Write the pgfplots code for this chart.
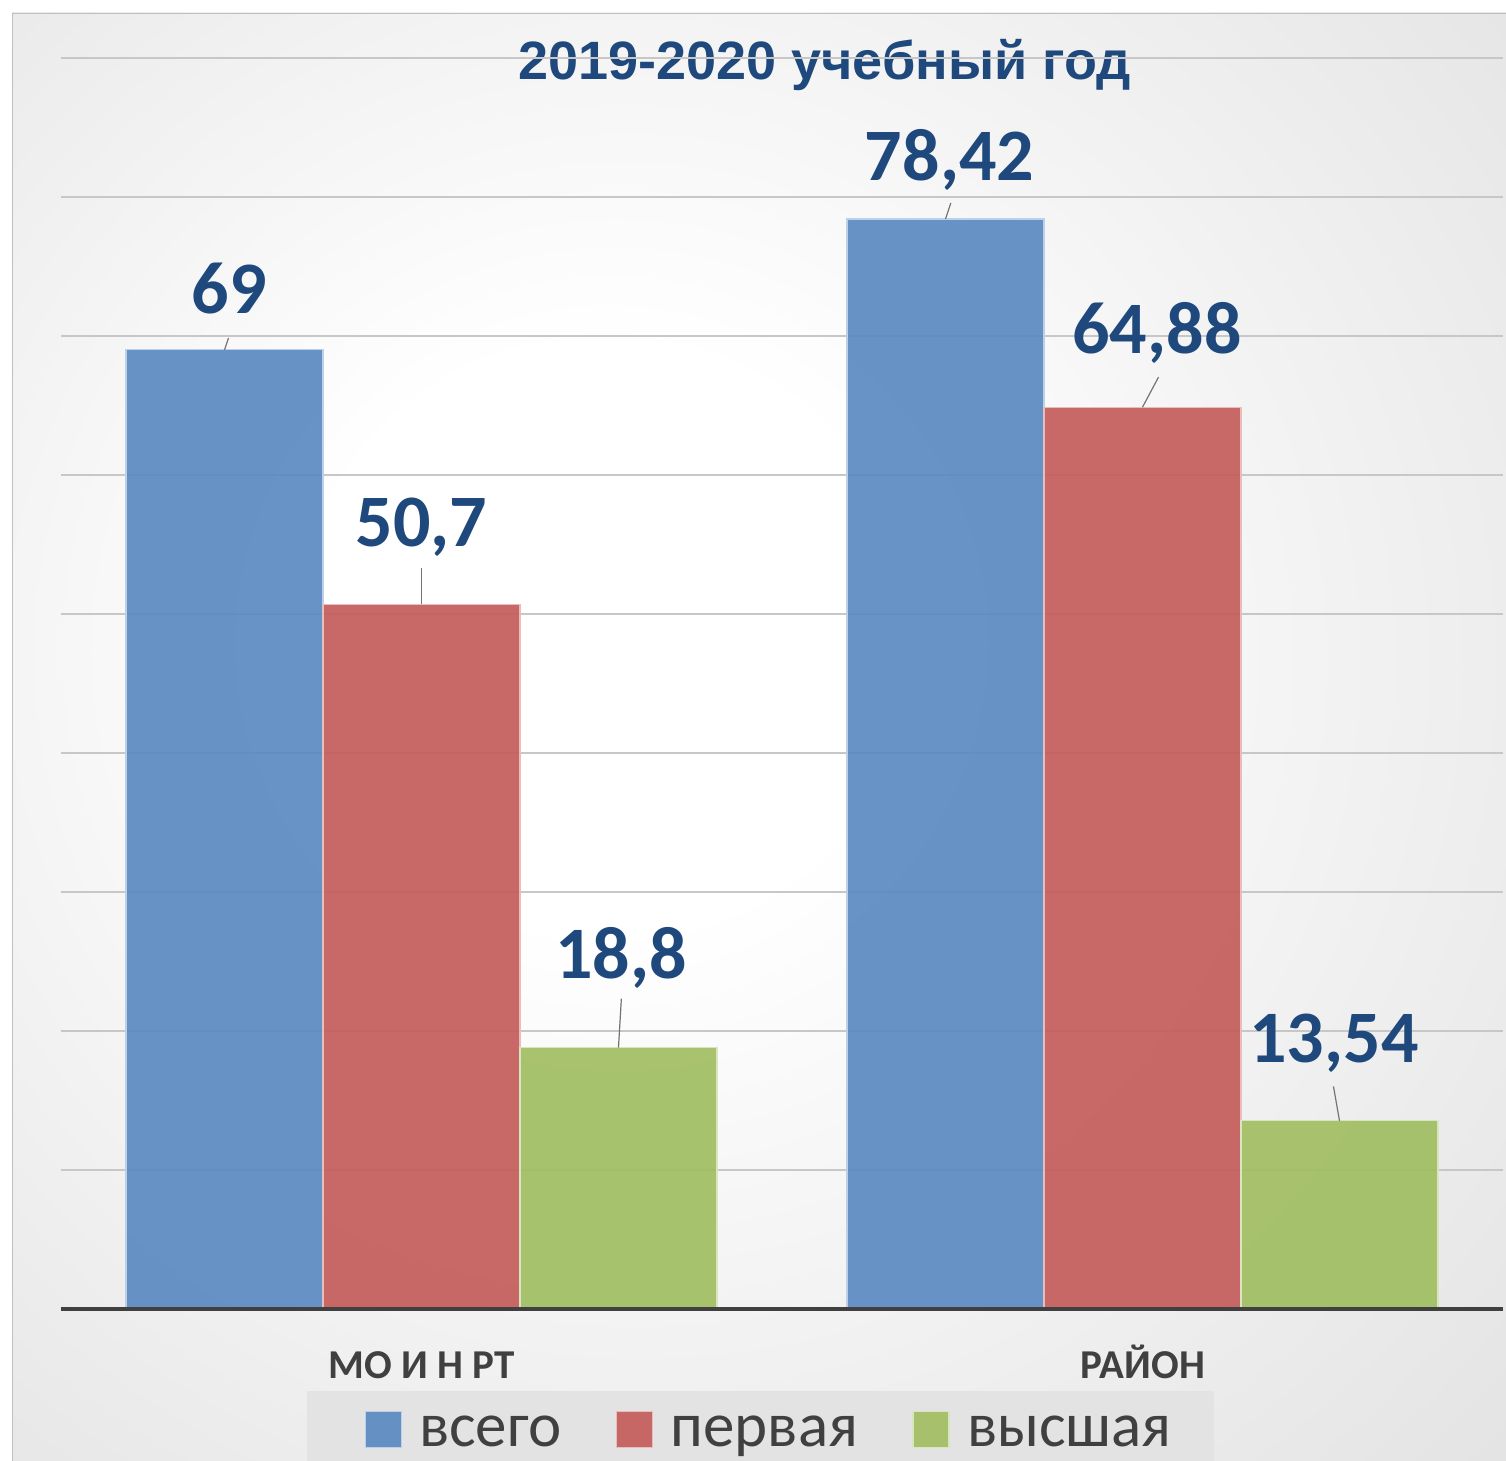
\documentclass[border=0pt]{standalone}
\usepackage{fontspec}
\setmainfont{Carlito}
\newfontfamily\titlefont{Liberation Sans}
\usepackage{pgfplots}
\usepackage{pgfplotstable}
\pgfplotsset{compat=1.18}
\definecolor{barblue}{HTML}{5B8AC2}
\definecolor{barred}{HTML}{C55D5B}
\definecolor{bargreen}{HTML}{A1BE62}
\definecolor{labblue}{HTML}{1F497D}
\definecolor{txtgray}{HTML}{404040}
\pgfdeclareradialshading{bgshade}{\pgfpoint{-6bp}{4bp}}{color(0bp)=(white); color(10bp)=(white); color(50bp)=(black!15); color(72bp)=(black!24)}

% x = bar centre (group 0 / 1, shifted by one bar width), dx, dy = label offset (pt)
\pgfplotstableread{
x y lab dx dy
-0.2732 69 69 2.25 18
0.7268 78.42 78,42 2 19
}\vsego
\pgfplotstableread{
x y lab dx dy
0 50.7 50,7 0 29
1 64.88 64,88 7.25 27
}\pervaya
\pgfplotstableread{
x y lab dx dy
0.2732 18.8 18,8 1.25 34.5
1.2732 13.54 13,54 -2.75 29
}\vysshaya
% leader lines: start at bar top, (u,v) in axis units
\pgfplotstableread{
x y u v
-0.2732 69 0.0055 0.86
0 50.7 0 2.59
0.2732 18.8 0.004 3.53
0.7268 78.42 0.0074 1.15
1 64.88 0.0222 2.16
1.2732 13.54 -0.0083 2.47
}\leaders

\pgfplotsset{
  mybar/.style={
    ybar, bar width=0.2732, bar shift=0pt, line width=0.6pt, fill opacity=0.92,
    legend image code/.code={\path[draw=none, fill=none] (-10pt,-7pt) rectangle (25pt,11pt); \fill[##1] (0pt,-7pt) rectangle (18pt,11pt);},
    point meta=explicit symbolic,
    nodes near coords={\pgfplotspointmeta},
    visualization depends on={\thisrow{dx}\as\pdx},
    visualization depends on={\thisrow{dy}\as\pdy},
    every node near coord/.append style={inner sep=0pt, anchor=base,
      xshift=\pdx pt, yshift=\pdy pt, fill opacity=1, text opacity=1,
      font=\fontsize{37}{37}\selectfont\bfseries, text=labblue},
  },
}

\begin{document}
\begin{tikzpicture}
\useasboundingbox (0,0) rectangle (753pt,730.5pt);
\fill[white] (0,0) rectangle (753pt,730.5pt);
\shade[shading=bgshade] (6pt,0) rectangle (753pt,724pt);
\draw[black!25, line width=0.8pt] (6.2pt,0) -- (6.2pt,723.8pt) -- (753pt,723.8pt);
\node[font=\titlefont\fontsize{27}{27}\selectfont\bfseries, text=labblue, anchor=base] at (412.25pt,690.5pt) {2019-2020 учебный год};
\begin{axis}[
  at={(30.5pt,76pt)}, anchor=south west, scale only axis,
  width=721pt, height=625.5pt,
  xmin=-0.5, xmax=1.5, ymin=0, ymax=90,
  axis line style={draw=none},
  major tick length=0pt,
  xtick={0,1}, xticklabels={МО И Н РТ,РАЙОН},
  ytick={10,20,...,90}, yticklabels={},
  ymajorgrids, major grid style={black!22, line width=0.6pt},
  xticklabel style={font=\fontsize{20.5}{20.5}\selectfont\bfseries, text=txtgray, anchor=base, yshift=-35pt},
  clip=false,
  legend columns=3,
  legend style={at={(0.1704,-0.0649)}, anchor=north west, draw=none, fill=black!11,
    font=\fontsize{31.5}{31.5}\selectfont, text=txtgray, inner xsep=19pt, inner ysep=10pt,
    /tikz/column 2/.style={column sep=15.5pt}, /tikz/column 4/.style={column sep=15.5pt}},
]
\addplot[mybar, fill=barblue, draw=white!60!barblue] table[x=x,y=y,meta=lab] {\vsego};
\addlegendentry{всего}
\addplot[mybar, fill=barred, draw=white!60!barred] table[x=x,y=y,meta=lab] {\pervaya};
\addlegendentry{первая}
\addplot[mybar, fill=bargreen, draw=white!60!bargreen] table[x=x,y=y,meta=lab] {\vysshaya};
\addlegendentry{высшая}
\addplot[forget plot, quiver={u=\thisrow{u}, v=\thisrow{v}}, -, draw=black!55, line width=0.6pt] table[x=x,y=y] {\leaders};
\draw[txtgray, line width=1.8pt] (axis cs:-0.5,0) -- (axis cs:1.5,0);
\end{axis}
\end{tikzpicture}
\end{document}
